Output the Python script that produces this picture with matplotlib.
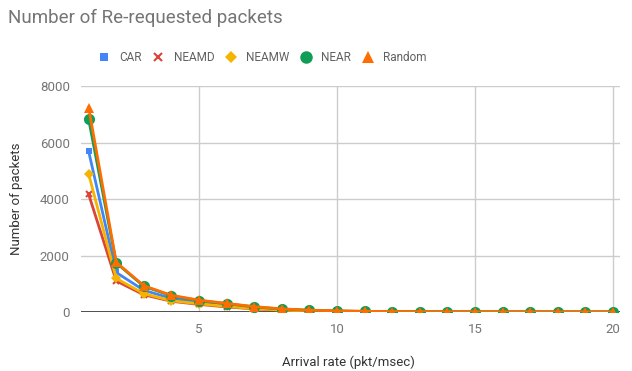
import matplotlib.pyplot as plt
from matplotlib.lines import Line2D

plt.rcParams["font.family"] = ["Roboto", "DejaVu Sans"]

# Data
arrival_rate = list(range(1, 21))
car = [5690, 1400, 770, 480, 340, 240, 150, 90, 50, 30, 18, 11, 7, 5, 3, 2, 2, 1, 1, 1]
neamd = [4170, 1100, 610, 380, 270, 180, 110, 65, 35, 20, 12, 8, 5, 3, 2, 1, 1, 1, 0, 0]
neamw = [4890, 1190, 650, 400, 290, 200, 120, 70, 40, 25, 15, 9, 6, 4, 3, 2, 1, 1, 1, 0]
near = [6830, 1740, 910, 575, 405, 295, 180, 105, 60, 35, 22, 14, 9, 6, 4, 3, 2, 2, 1, 1]
rand = [7240, 1760, 930, 590, 420, 305, 190, 110, 65, 40, 25, 15, 10, 8, 5, 4, 3, 2, 2, 1]

series = [
    ("CAR", car, "#4285F4", "s", 5),
    ("NEAMD", neamd, "#DB4437", "x", 5),
    ("NEAMW", neamw, "#F4B400", "D", 5),
    ("NEAR", near, "#0F9D58", "o", 8),
    ("Random", rand, "#FF6D00", "^", 7),
]

fig = plt.figure(figsize=(6.32, 3.71), dpi=100)
ax = fig.add_axes([0.128, 0.159, 0.853, 0.609])

for name, vals, color, marker, ms in series:
    ax.plot(arrival_rate, vals, color=color, lw=2, marker=marker, ms=ms,
            mew=1.5 if marker == "x" else 0, zorder=3)

ax.set_xlim(0.72, 20.25)
ax.set_ylim(0, 8000)
ax.set_xticks([5, 10, 15, 20])
ax.set_yticks([0, 2000, 4000, 6000, 8000])
ax.grid(True, color="#cccccc", lw=1)
ax.set_axisbelow(True)
for s in ax.spines.values():
    s.set_visible(False)
ax.axhline(0, color="#333333", lw=1.2, zorder=2)
ax.tick_params(length=0, labelsize=9.5, labelcolor="#757575", pad=8)

ax.set_ylabel("Number of packets", fontsize=9.5, color="#333333", labelpad=12)
fig.text(0.551, 0.024, "Arrival rate (pkt/msec)", fontsize=9.5,
         color="#333333", ha="center", va="center")

fig.text(0.013, 0.951, "Number of Re-requested packets", fontsize=13.5,
         color="#757575", va="center", ha="left")

handles = [Line2D([], [], linestyle="none", marker=m, color=c, ms=ms + 1,
                  mew=1.5 if m == "x" else 0)
           for _, _, c, m, ms in series]
fig.legend(handles, [s[0] for s in series], loc="center", ncol=5,
           bbox_to_anchor=(0.415, 0.846), frameon=False, fontsize=8.5,
           labelcolor="#616161", handletextpad=0.8, columnspacing=0.9,
           handlelength=1.0)

fig.savefig("out.png", dpi=100)
